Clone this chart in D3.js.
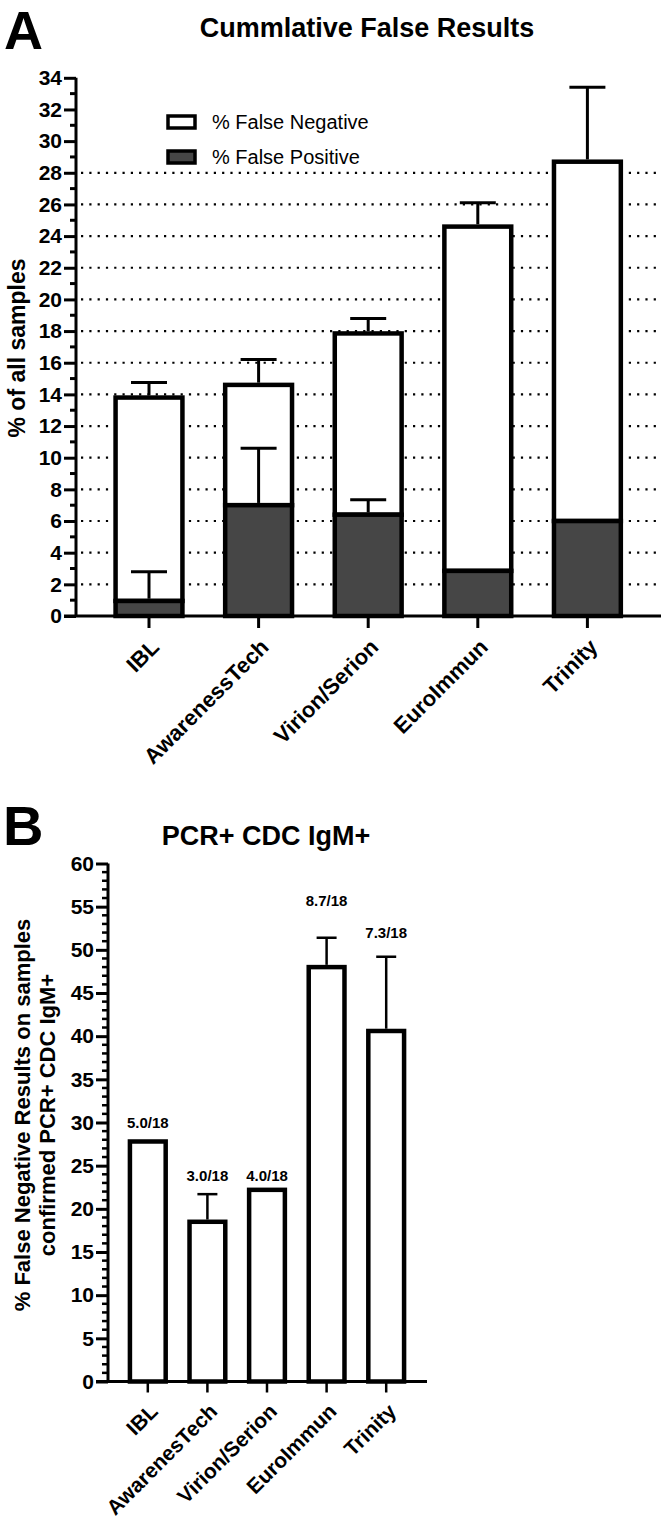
<!DOCTYPE html>
<html>
<head>
<meta charset="utf-8">
<script src="https://cdn.jsdelivr.net/npm/d3@7"></script>
<style>
  html, body { margin: 0; padding: 0; background: #fff; }
  svg { display: block; font-family: "Liberation Sans", Arial, sans-serif; }
</style>
</head>
<body>
<svg id="chart" width="666" height="1522"></svg>
<script>
// ---------- DATA ----------
const categoriesA = ["IBL", "AwarenessTech", "Virion/Serion", "EuroImmun", "Trinity"];
const falsePositive = [0.95, 7.0, 6.4, 2.85, 6.0];
const falsePositiveErrTop = [2.8, 10.6, 7.35, null, null];
const totalFalse = [13.8, 14.6, 17.85, 24.6, 28.7];       // FP + FN stacked top
const totalFalseErrTop = [14.75, 16.2, 18.8, 26.1, 33.4];
const yTicksA = [0, 2, 4, 6, 8, 10, 12, 14, 16, 18, 20, 22, 24, 26, 28, 30, 32, 34];
const gridValuesA = [2, 4, 6, 8, 10, 12, 14, 16, 18, 20, 22, 24, 26, 28];
const legendLabels = ["% False Negative", "% False Positive"];

const categoriesB = ["IBL", "AwarenesTech", "Virion/Serion", "EuroImmun", "Trinity"];
const pctFalseNeg = [27.8, 18.5, 22.2, 48.0, 40.6];
const pctFalseNegErrTop = [null, 21.7, null, 51.4, 49.2];
const countLabels = ["5.0/18", "3.0/18", "4.0/18", "8.7/18", "7.3/18"];
const yTicksB = [0, 5, 10, 15, 20, 25, 30, 35, 40, 45, 50, 55, 60];

// ---------- SETUP ----------
const svg = d3.select("#chart");
const dark = "#464646";
const FONT = "'Liberation Sans', Arial, sans-serif";

// ================= PANEL A =================
const A = svg.append("g");
const yA = d3.scaleLinear().domain([0, 34]).range([616, 77.8]);
const xA = d3.scaleBand().domain(categoriesA).range([94.2, 642.2]).paddingInner(0.39).paddingOuter(0.195);
const axisXA = 76;

A.append("text").attr("x", 4).attr("y", 49).attr("font-size", 54).attr("font-weight", "bold")
  .attr("font-family", FONT).text("A");
A.append("text").attr("x", 367).attr("y", 37).attr("text-anchor", "middle").attr("font-size", 27)
  .attr("font-weight", "bold").attr("font-family", FONT).text("Cummlative False Results");

// grid
A.selectAll("line.grid").data(gridValuesA).join("line")
  .attr("x1", axisXA + 5).attr("x2", 661)
  .attr("y1", d => yA(d)).attr("y2", d => yA(d))
  .attr("stroke", "#000").attr("stroke-width", 2.2).attr("stroke-dasharray", "2.2,6.1");

// y axis
const yAxisA = d3.axisLeft(yA).tickValues(yTicksA).tickSize(12).tickFormat(d3.format("d"));
const gyA = A.append("g").attr("transform", `translate(${axisXA},0)`).call(yAxisA);
gyA.select(".domain").attr("stroke-width", 3).attr("d", `M0,${yA(34)}V${yA(0)}`);
gyA.selectAll(".tick line").attr("stroke-width", 3);
gyA.selectAll(".tick text").attr("font-size", 21).attr("font-weight", "bold").attr("font-family", FONT).attr("x", -14).attr("fill", "#000");
// minor ticks
const minorA = d3.range(1, 34, 2);
gyA.selectAll("line.minor").data(minorA).join("line").attr("class", "minor")
  .attr("x1", -6).attr("x2", 0).attr("y1", d => yA(d)).attr("y2", d => yA(d))
  .attr("stroke", "#000").attr("stroke-width", 3);

// x axis
A.append("line").attr("x1", axisXA - 12).attr("x2", 661).attr("y1", yA(0)).attr("y2", yA(0))
  .attr("stroke", "#000").attr("stroke-width", 3);
A.selectAll("line.xt").data(categoriesA).join("line")
  .attr("x1", d => xA(d) + xA.bandwidth() / 2).attr("x2", d => xA(d) + xA.bandwidth() / 2)
  .attr("y1", yA(0)).attr("y2", yA(0) + 12).attr("stroke", "#000").attr("stroke-width", 3);
A.selectAll("text.xl").data(categoriesA).join("text")
  .attr("transform", d => `translate(${xA(d) + xA.bandwidth() / 2 + 6},${yA(0) + 27}) rotate(-45)`)
  .attr("text-anchor", "end").attr("dy", "0.35em").attr("font-size", 22).attr("font-weight", "bold")
  .attr("font-family", FONT).text(d => d);

// y label
A.append("text").attr("transform", `translate(25,348) rotate(-90)`).attr("text-anchor", "middle")
  .attr("font-size", 23).attr("font-weight", "bold").attr("font-family", FONT).text("% of all samples");

// bars: FN (white) segment from FP to total, FP (dark) from 0 to FP
const bw = 4.5;
A.selectAll("rect.fn").data(categoriesA).join("rect")
  .attr("x", d => xA(d)).attr("width", xA.bandwidth())
  .attr("y", (d, i) => yA(totalFalse[i])).attr("height", (d, i) => yA(falsePositive[i]) - yA(totalFalse[i]))
  .attr("fill", "#fff").attr("stroke", "#000").attr("stroke-width", bw);
A.selectAll("rect.fp").data(categoriesA).join("rect")
  .attr("x", d => xA(d)).attr("width", xA.bandwidth())
  .attr("y", (d, i) => yA(falsePositive[i])).attr("height", (d, i) => yA(0) - yA(falsePositive[i]))
  .attr("fill", dark).attr("stroke", "#000").attr("stroke-width", bw);

function errBar(g, cx, y0, y1, capW, sw) {
  g.append("line").attr("x1", cx).attr("x2", cx).attr("y1", y0).attr("y2", y1)
    .attr("stroke", "#000").attr("stroke-width", sw);
  g.append("line").attr("x1", cx - capW / 2).attr("x2", cx + capW / 2).attr("y1", y1).attr("y2", y1)
    .attr("stroke", "#000").attr("stroke-width", sw);
}
categoriesA.forEach((c, i) => {
  const cx = xA(c) + xA.bandwidth() / 2;
  errBar(A, cx, yA(totalFalse[i]) - bw / 2, yA(totalFalseErrTop[i]), 36, 3);
  if (falsePositiveErrTop[i] != null) errBar(A, cx, yA(falsePositive[i]) - bw / 2, yA(falsePositiveErrTop[i]), 36, 3);
});

// legend
const legFills = ["#fff", dark];
legendLabels.forEach((l, i) => {
  const ly = 116 + i * 35;
  A.append("rect").attr("x", 168).attr("y", ly).attr("width", 27).attr("height", 12)
    .attr("fill", legFills[i]).attr("stroke", "#000").attr("stroke-width", 3.5);
  A.append("text").attr("x", 212).attr("y", ly + 13).attr("font-size", 20).attr("font-family", FONT).text(l);
});

// ================= PANEL B =================
const B = svg.append("g");
const yB = d3.scaleLinear().domain([0, 60]).range([1381.5, 863.5]);
const xB = d3.scaleBand().domain(categoriesB).range([118, 416]).paddingInner(0.4).paddingOuter(0.2);
const axisXB = 108;

B.append("text").attr("x", 3).attr("y", 845).attr("font-size", 56).attr("font-weight", "bold")
  .attr("font-family", FONT).text("B");
B.append("text").attr("x", 266).attr("y", 845).attr("text-anchor", "middle").attr("font-size", 27)
  .attr("font-weight", "bold").attr("font-family", FONT).text("PCR+ CDC IgM+");

const yAxisB = d3.axisLeft(yB).tickValues(yTicksB).tickSize(12).tickFormat(d3.format("d"));
const gyB = B.append("g").attr("transform", `translate(${axisXB},0)`).call(yAxisB);
gyB.select(".domain").attr("stroke-width", 3).attr("d", `M0,${yB(60)}V${yB(0)}`);
gyB.selectAll(".tick line").attr("stroke-width", 3);
gyB.selectAll(".tick text").attr("font-size", 21).attr("font-weight", "bold").attr("font-family", FONT).attr("x", -14).attr("fill", "#000");
const minorB = d3.range(1, 60).filter(v => v % 5 !== 0);
gyB.selectAll("line.minor").data(minorB).join("line").attr("class", "minor")
  .attr("x1", -6).attr("x2", 0).attr("y1", d => yB(d)).attr("y2", d => yB(d))
  .attr("stroke", "#000").attr("stroke-width", 2.5);

B.append("line").attr("x1", axisXB - 12).attr("x2", 427).attr("y1", yB(0)).attr("y2", yB(0))
  .attr("stroke", "#000").attr("stroke-width", 3);
B.selectAll("line.xt").data(categoriesB).join("line")
  .attr("x1", d => xB(d) + xB.bandwidth() / 2).attr("x2", d => xB(d) + xB.bandwidth() / 2)
  .attr("y1", yB(0)).attr("y2", yB(0) + 11).attr("stroke", "#000").attr("stroke-width", 2.5);
B.selectAll("text.xl").data(categoriesB).join("text")
  .attr("transform", d => `translate(${xB(d) + xB.bandwidth() / 2 + 6},${yB(0) + 26}) rotate(-45)`)
  .attr("text-anchor", "end").attr("dy", "0.35em").attr("font-size", 21).attr("font-weight", "bold")
  .attr("font-family", FONT).text(d => d);

const yLabB = B.append("text").attr("transform", `translate(0,1115) rotate(-90)`).attr("text-anchor", "middle")
  .attr("font-size", 22).attr("font-weight", "bold").attr("font-family", FONT);
yLabB.append("tspan").attr("x", 0).attr("y", 30).text("% False Negative Results on samples");
yLabB.append("tspan").attr("x", 0).attr("y", 55).text("confirmed PCR+ CDC IgM+");

B.selectAll("rect.bb").data(categoriesB).join("rect")
  .attr("x", d => xB(d)).attr("width", xB.bandwidth())
  .attr("y", (d, i) => yB(pctFalseNeg[i])).attr("height", (d, i) => yB(0) - yB(pctFalseNeg[i]))
  .attr("fill", "#fff").attr("stroke", "#000").attr("stroke-width", 4.5);
categoriesB.forEach((c, i) => {
  const cx = xB(c) + xB.bandwidth() / 2;
  if (pctFalseNegErrTop[i] != null) errBar(B, cx, yB(pctFalseNeg[i]) - 2.25, yB(pctFalseNegErrTop[i]), 20, 2.5);
});
// count labels
const labelY = [1128, 1181, 1181, 906, 938];
B.selectAll("text.cnt").data(categoriesB).join("text")
  .attr("x", d => xB(d) + xB.bandwidth() / 2).attr("y", (d, i) => labelY[i])
  .attr("text-anchor", "middle").attr("font-size", 15).attr("font-weight", "bold").attr("font-family", FONT)
  .text((d, i) => countLabels[i]);
</script>
</body>
</html>
